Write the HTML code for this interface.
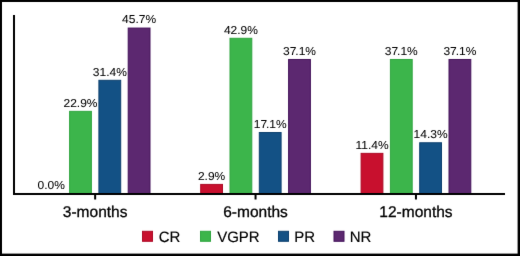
<!DOCTYPE html>
<html><head><meta charset="utf-8"><title>Response rates</title>
<style>
html,body{margin:0;padding:0;background:#fff;}
body{width:520px;height:256px;overflow:hidden;}
svg{display:block;text-rendering:geometricPrecision;}
text{stroke:#000;stroke-width:0.05px;font-family:"Liberation Sans",Arial,Helvetica,sans-serif;fill:#000;}
.b{stroke-width:0.3px;}
.l{stroke-width:0.15px;}
</style></head><body>
<svg width="520" height="256" viewBox="0 0 520 256">
<defs><filter id="soft" x="0" y="0" width="100%" height="100%" color-interpolation-filters="sRGB"><feConvolveMatrix order="3" kernelMatrix="0.005 0.055 0.005 0.055 0.76 0.055 0.005 0.055 0.005" edgeMode="duplicate" preserveAlpha="true"/></filter></defs>
<g filter="url(#soft)">
<rect x="0" y="0" width="520" height="256" fill="#fff"/>
<text transform="translate(51.20 189.35) scale(1.043 1)" font-size="11.5" text-anchor="middle">0.0%</text>
<rect x="69.60" y="111.35" width="21.80" height="82.65" fill="#3cb54b" stroke="#30a640" stroke-width="1"/>
<text transform="translate(80.50 106.70) scale(1.043 1)" font-size="11.5" text-anchor="middle">22.9%</text>
<rect x="98.90" y="80.30" width="21.80" height="113.70" fill="#135185" stroke="#0d416f" stroke-width="1"/>
<text transform="translate(109.80 75.65) scale(1.043 1)" font-size="11.5" text-anchor="middle">31.4%</text>
<rect x="128.20" y="28.06" width="21.80" height="165.94" fill="#5c2870" stroke="#44135a" stroke-width="1"/>
<text transform="translate(139.10 23.41) scale(1.043 1)" font-size="11.5" text-anchor="middle">45.7%</text>
<rect x="200.70" y="184.41" width="21.80" height="9.59" fill="#c8102e" stroke="#ad0b27" stroke-width="1"/>
<text transform="translate(211.60 179.76) scale(1.043 1)" font-size="11.5" text-anchor="middle">2.9%</text>
<rect x="230.00" y="38.29" width="21.80" height="155.71" fill="#3cb54b" stroke="#30a640" stroke-width="1"/>
<text transform="translate(240.90 33.64) scale(1.043 1)" font-size="11.5" text-anchor="middle">42.9%</text>
<rect x="259.30" y="132.53" width="21.80" height="61.47" fill="#135185" stroke="#0d416f" stroke-width="1"/>
<text transform="translate(270.20 127.88) scale(1.043 1)" font-size="11.5" text-anchor="middle">17<tspan dx="-1">.</tspan>1%</text>
<rect x="288.60" y="59.47" width="21.80" height="134.53" fill="#5c2870" stroke="#44135a" stroke-width="1"/>
<text transform="translate(299.50 54.82) scale(1.043 1)" font-size="11.5" text-anchor="middle">37<tspan dx="-1">.</tspan>1%</text>
<rect x="361.10" y="153.36" width="21.80" height="40.64" fill="#c8102e" stroke="#ad0b27" stroke-width="1"/>
<text transform="translate(372.00 148.71) scale(1.043 1)" font-size="11.5" text-anchor="middle">11.4%</text>
<rect x="390.40" y="59.47" width="21.80" height="134.53" fill="#3cb54b" stroke="#30a640" stroke-width="1"/>
<text transform="translate(401.30 54.82) scale(1.043 1)" font-size="11.5" text-anchor="middle">37<tspan dx="-1">.</tspan>1%</text>
<rect x="419.70" y="142.76" width="21.80" height="51.24" fill="#135185" stroke="#0d416f" stroke-width="1"/>
<text transform="translate(430.60 138.11) scale(1.043 1)" font-size="11.5" text-anchor="middle">14.3%</text>
<rect x="449.00" y="59.47" width="21.80" height="134.53" fill="#5c2870" stroke="#44135a" stroke-width="1"/>
<text transform="translate(459.90 54.82) scale(1.043 1)" font-size="11.5" text-anchor="middle">37<tspan dx="-1">.</tspan>1%</text>
<rect x="13" y="15" width="2" height="180" fill="#000"/>
<rect x="13" y="193" width="492" height="2" fill="#000"/>
<rect x="94.15" y="195" width="2" height="4.5" fill="#000"/>
<text x="95.15" y="217.0" font-size="15.5" text-anchor="middle" class="b">3-months</text>
<rect x="254.55" y="195" width="2" height="4.5" fill="#000"/>
<text x="255.55" y="217.0" font-size="15.5" text-anchor="middle" class="b">6-months</text>
<rect x="414.95" y="195" width="2" height="4.5" fill="#000"/>
<text x="415.95" y="217.0" font-size="15.5" text-anchor="middle" class="b">12-months</text>
<rect x="142.5" y="231.3" width="10" height="10" fill="#c8102e" stroke="#ad0b27" stroke-width="1"/>
<text x="158.7" y="241.5" font-size="15" class="l">CR</text>
<rect x="200.5" y="231.3" width="10" height="10" fill="#3cb54b" stroke="#30a640" stroke-width="1"/>
<text x="217.2" y="241.5" font-size="15" class="l">VGPR</text>
<rect x="278.5" y="231.3" width="10" height="10" fill="#135185" stroke="#0d416f" stroke-width="1"/>
<text x="294.2" y="241.5" font-size="15" class="l">PR</text>
<rect x="334.0" y="231.3" width="10" height="10" fill="#5c2870" stroke="#44135a" stroke-width="1"/>
<text x="349.7" y="241.5" font-size="15" class="l">NR</text>
<rect x="0" y="0" width="520" height="2" fill="#000"/>
<rect x="0" y="0" width="2" height="256" fill="#000"/>
<rect x="517.6" y="0" width="2.4" height="256" fill="#000"/>
<rect x="0" y="253.6" width="520" height="2.4" fill="#000"/>
</g>
</svg>
</body></html>
